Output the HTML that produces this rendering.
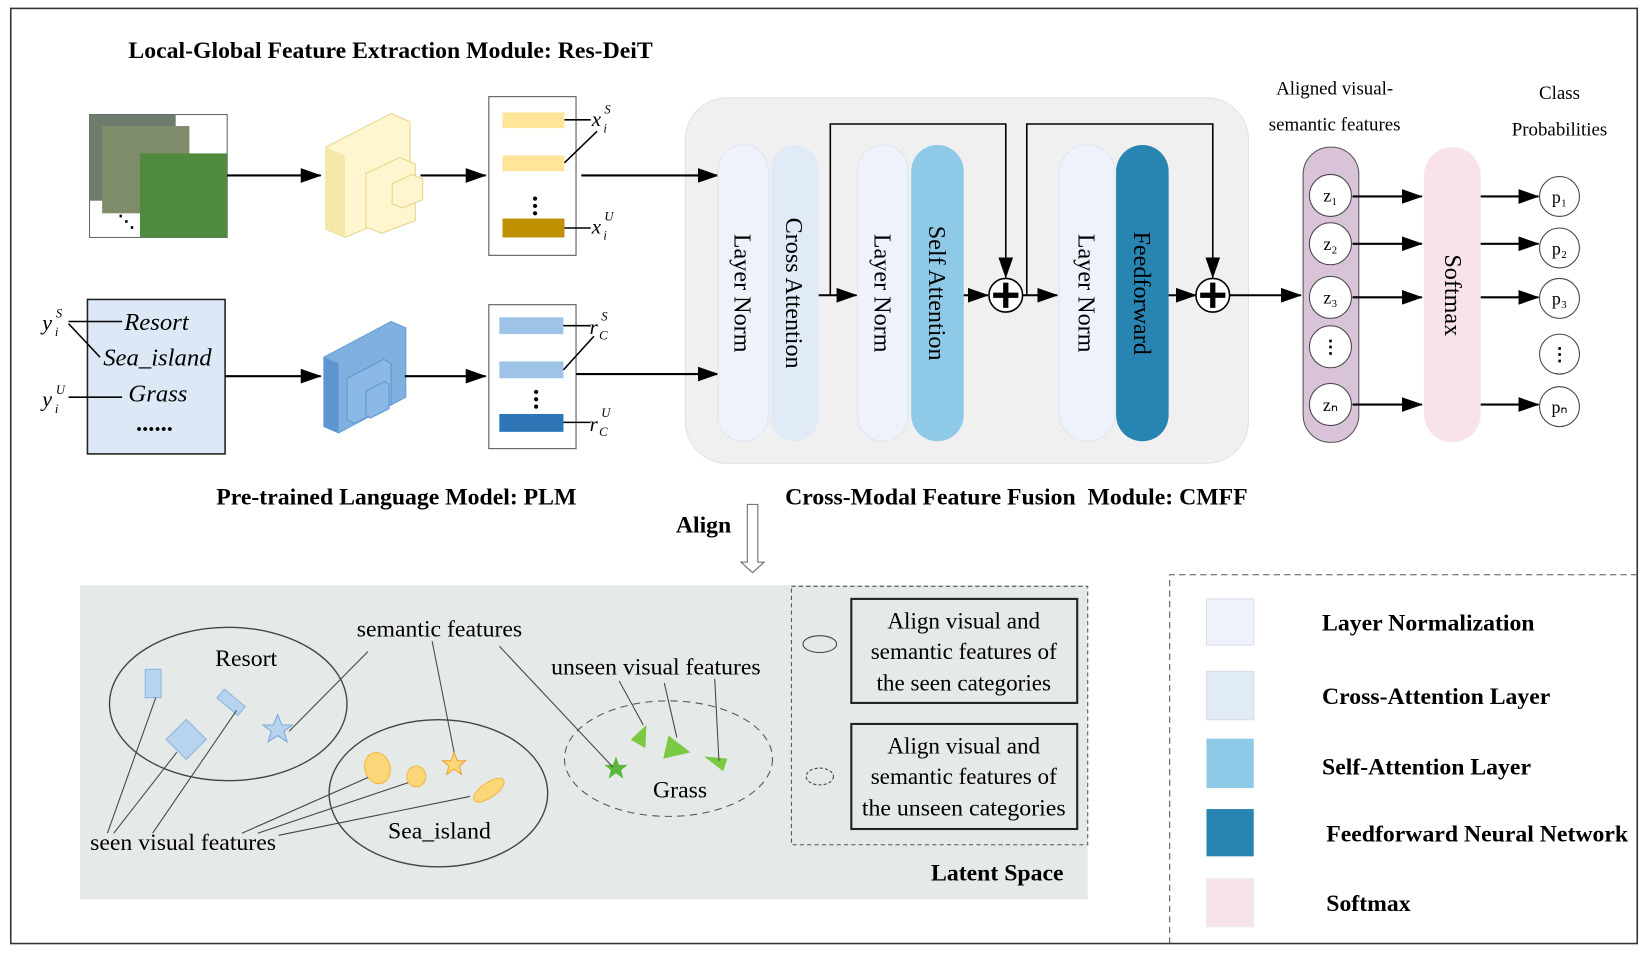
<!DOCTYPE html>
<html><head><meta charset="utf-8"><style>
html,body{margin:0;padding:0;background:#fff;}
svg{display:block;}
text{font-family:"Liberation Serif",serif;}
.b{font-weight:bold;font-size:22.6px;}
</style></head><body>
<svg width="1648" height="953" viewBox="0 0 1568 907" xmlns="http://www.w3.org/2000/svg">
<defs>
<marker id="ahl" markerWidth="20" markerHeight="14" refX="19" refY="7" orient="auto" markerUnits="userSpaceOnUse">
<path d="M0,0 L20,7 L0,14 z" fill="#000"/></marker>
</defs>
<rect x="10" y="8" width="1548" height="890" fill="#fff" stroke="#333" stroke-width="1.5"/>
<text x="122" y="55" class="b">Local-Global Feature Extraction Module: Res-DeiT</text>

<!-- image stack -->
<rect x="85" y="109" width="131" height="117" fill="#fff" stroke="#666"/>
<rect x="85" y="109" width="82" height="82" fill="#6d7c6c"/>
<rect x="97" y="120" width="83" height="83" fill="#7e8c6a"/>
<rect x="133" y="146" width="83" height="80" fill="#4f8a3e"/>
<text x="112" y="216" font-size="16" font-weight="bold">⋱</text>
<line x1="216" y1="167" x2="305" y2="167" stroke="#000" stroke-width="2" marker-end="url(#ahl)"/>
<!-- yellow block -->
<polygon points="310,140 372,108 390,116 390,200 328,226 310,218" fill="#fff6cf" stroke="#e8d48a"/>
<polygon points="310,140 328,148 328,226 310,218" fill="#f5e7a8"/>
<polygon points="348,165 380,150 395,156 395,210 363,222 348,216" fill="#fff6cf" stroke="#e8d48a"/>
<polygon points="373,175 392,166 402,170 402,190 383,198 373,194" fill="#fff6cf" stroke="#e8d48a"/>
<line x1="400" y1="167" x2="462" y2="167" stroke="#000" stroke-width="2" marker-end="url(#ahl)"/>
<rect x="465" y="92" width="83" height="151" fill="#fff" stroke="#555"/>
<rect x="478" y="107" width="59" height="15" fill="#ffe49a"/>
<rect x="478" y="148" width="59" height="15" fill="#ffe49a"/>
<rect x="478" y="208" width="59" height="18" fill="#c09000"/>
<circle cx="509" cy="189" r="2" fill="#000"/><circle cx="509" cy="196" r="2" fill="#000"/><circle cx="509" cy="203" r="2" fill="#000"/>
<line x1="537" y1="114" x2="562" y2="114" stroke="#000" stroke-width="1.5"/>
<line x1="537" y1="155" x2="568" y2="125" stroke="#000" stroke-width="1.5"/>
<line x1="537" y1="217" x2="562" y2="217" stroke="#000" stroke-width="1.5"/>
<text x="563" y="120" font-size="20" font-style="italic">x</text><text x="575" y="108" font-size="12" font-style="italic">S</text><text x="574" y="126" font-size="12" font-style="italic">i</text>
<text x="563" y="222" font-size="20" font-style="italic">x</text><text x="575" y="210" font-size="12" font-style="italic">U</text><text x="574" y="228" font-size="12" font-style="italic">i</text>

<!-- text box -->
<rect x="83" y="285" width="131" height="147" fill="#dce8f5" stroke="#222" stroke-width="1.5"/>
<text x="118" y="314" font-size="23.5" font-style="italic">Resort</text>
<text x="98" y="348" font-size="23.5" font-style="italic">Sea_island</text>
<text x="122" y="382" font-size="23.5" font-style="italic">Grass</text>
<text x="130" y="410" font-size="23.5" font-style="italic" font-weight="bold">......</text>
<text x="40" y="314" font-size="21" font-style="italic">y</text><text x="53" y="302" font-size="12" font-style="italic">S</text><text x="52" y="320" font-size="12" font-style="italic">i</text>
<text x="40" y="387" font-size="21" font-style="italic">y</text><text x="53" y="375" font-size="12" font-style="italic">U</text><text x="52" y="393" font-size="12" font-style="italic">i</text>
<line x1="65" y1="306" x2="116" y2="306" stroke="#000" stroke-width="1.5"/>
<line x1="65" y1="308" x2="95" y2="340" stroke="#000" stroke-width="1.5"/>
<line x1="65" y1="378" x2="116" y2="378" stroke="#000" stroke-width="1.5"/>
<line x1="214" y1="358" x2="305" y2="358" stroke="#000" stroke-width="2" marker-end="url(#ahl)"/>
<!-- blue block -->
<polygon points="308,340 372,306 386,312 386,378 322,412 308,406" fill="#7fb0e0" stroke="#6a9fd4"/>
<polygon points="308,340 322,346 322,412 308,406" fill="#5e95cf"/>
<polygon points="330,360 365,342 372,346 372,385 337,403 330,399" fill="#8bb9e6" stroke="#5e95cf"/>
<polygon points="348,372 366,363 370,366 370,389 352,398 348,395" fill="#8bb9e6" stroke="#5e95cf"/>
<line x1="385" y1="358" x2="462" y2="358" stroke="#000" stroke-width="2" marker-end="url(#ahl)"/>
<rect x="465" y="290" width="83" height="137" fill="#fff" stroke="#555"/>
<rect x="475" y="302" width="61" height="16" fill="#9dc3e6"/>
<rect x="475" y="344" width="61" height="16" fill="#9dc3e6"/>
<rect x="475" y="394" width="61" height="17" fill="#2e75b6"/>
<circle cx="510" cy="373" r="2" fill="#000"/><circle cx="510" cy="380" r="2" fill="#000"/><circle cx="510" cy="387" r="2" fill="#000"/>
<line x1="536" y1="310" x2="562" y2="310" stroke="#000" stroke-width="1.5"/>
<line x1="536" y1="352" x2="565" y2="320" stroke="#000" stroke-width="1.5"/>
<line x1="536" y1="402" x2="562" y2="402" stroke="#000" stroke-width="1.5"/>
<text x="561" y="318" font-size="20" font-style="italic">r</text><text x="572" y="305" font-size="12" font-style="italic">S</text><text x="570" y="323" font-size="12" font-style="italic">C</text>
<text x="561" y="410" font-size="20" font-style="italic">r</text><text x="572" y="397" font-size="12" font-style="italic">U</text><text x="570" y="415" font-size="12" font-style="italic">C</text>

<!-- CMFF -->
<rect x="652" y="93" width="536" height="348" rx="40" fill="#f0f0f0" stroke="#e2e2e2"/>
<line x1="553" y1="167" x2="683" y2="167" stroke="#000" stroke-width="2" marker-end="url(#ahl)"/>
<line x1="548" y1="356" x2="683" y2="356" stroke="#000" stroke-width="2" marker-end="url(#ahl)"/>
<rect x="683" y="138" width="48" height="282" rx="24" fill="#eef2fa" stroke="#e0e4ee"/>
<rect x="733" y="138" width="46" height="282" rx="23" fill="#e0ebf7"/>
<rect x="816" y="138" width="48" height="282" rx="24" fill="#eef2fa" stroke="#e0e4ee"/>
<rect x="867" y="138" width="50" height="282" rx="25" fill="#8ecae8"/>
<rect x="1008" y="138" width="53" height="282" rx="26" fill="#eef2fa" stroke="#e0e4ee"/>
<rect x="1062" y="138" width="50" height="282" rx="25" fill="#2884b0"/>
<g font-size="23">
<text transform="translate(699,279) rotate(90)" text-anchor="middle">Layer Norm</text>
<text transform="translate(748,279) rotate(90)" text-anchor="middle">Cross Attention</text>
<text transform="translate(832,279) rotate(90)" text-anchor="middle">Layer Norm</text>
<text transform="translate(884,279) rotate(90)" text-anchor="middle">Self Attention</text>
<text transform="translate(1026,279) rotate(90)" text-anchor="middle">Layer Norm</text>
<text transform="translate(1079,279) rotate(90)" text-anchor="middle">Feedforward</text>
</g>
<polyline points="790,281 790,118 957,118 957,264" fill="none" stroke="#000" stroke-width="1.5" marker-end="url(#ahl)"/>
<polyline points="977,281 977,118 1154,118 1154,264" fill="none" stroke="#000" stroke-width="1.5" marker-end="url(#ahl)"/>
<line x1="779" y1="281" x2="815" y2="281" stroke="#000" stroke-width="2" marker-end="url(#ahl)"/>
<line x1="917" y1="281" x2="940" y2="281" stroke="#000" stroke-width="2" marker-end="url(#ahl)"/>
<line x1="973" y1="281" x2="1006" y2="281" stroke="#000" stroke-width="2" marker-end="url(#ahl)"/>
<line x1="1112" y1="281" x2="1138" y2="281" stroke="#000" stroke-width="2" marker-end="url(#ahl)"/>
<line x1="1170" y1="281" x2="1238" y2="281" stroke="#000" stroke-width="2" marker-end="url(#ahl)"/>
<g stroke="#000">
<circle cx="957" cy="281" r="16" fill="#fff" stroke-width="1.5"/>
<line x1="945" y1="281" x2="969" y2="281" stroke-width="5"/><line x1="957" y1="269" x2="957" y2="293" stroke-width="5"/>
<circle cx="1154" cy="281" r="16" fill="#fff" stroke-width="1.5"/>
<line x1="1142" y1="281" x2="1166" y2="281" stroke-width="5"/><line x1="1154" y1="269" x2="1154" y2="293" stroke-width="5"/>
</g>

<!-- aligned -->
<text x="1270" y="90" font-size="18" text-anchor="middle">Aligned visual-</text>
<text x="1270" y="124" font-size="18" text-anchor="middle">semantic features</text>
<text x="1484" y="94" font-size="18" text-anchor="middle">Class</text>
<text x="1484" y="129" font-size="18" text-anchor="middle">Probabilities</text>
<rect x="1240" y="140" width="53" height="281" rx="26" fill="#d8c3d9" stroke="#555"/>
<rect x="1355" y="140" width="54" height="281" rx="27" fill="#f8e4e8"/>
<text transform="translate(1375,281) rotate(90)" text-anchor="middle" font-size="23">Softmax</text>
<g font-size="17" text-anchor="middle">
<circle cx="1266" cy="186" r="20" fill="#fff" stroke="#444"/><text x="1266" y="192">z₁</text>
<circle cx="1266" cy="232" r="20" fill="#fff" stroke="#444"/><text x="1266" y="238">z₂</text>
<circle cx="1266" cy="283" r="20" fill="#fff" stroke="#444"/><text x="1266" y="289">z₃</text>
<circle cx="1266" cy="330" r="20" fill="#fff" stroke="#444"/><text x="1266" y="336" font-weight="bold">⋮</text>
<circle cx="1266" cy="385" r="20" fill="#fff" stroke="#444"/><text x="1266" y="391">zₙ</text>
<circle cx="1484" cy="187" r="19" fill="#fff" stroke="#444"/><text x="1484" y="193">p₁</text>
<circle cx="1484" cy="236" r="19" fill="#fff" stroke="#444"/><text x="1484" y="242">p₂</text>
<circle cx="1484" cy="284" r="19" fill="#fff" stroke="#444"/><text x="1484" y="290">p₃</text>
<circle cx="1484" cy="337" r="19" fill="#fff" stroke="#444"/><text x="1484" y="343" font-weight="bold">⋮</text>
<circle cx="1484" cy="387" r="19" fill="#fff" stroke="#444"/><text x="1484" y="393">pₙ</text>
</g>
<g stroke="#000" stroke-width="2">
<line x1="1287" y1="187" x2="1353" y2="187" marker-end="url(#ahl)"/>
<line x1="1287" y1="232" x2="1353" y2="232" marker-end="url(#ahl)"/>
<line x1="1287" y1="283" x2="1353" y2="283" marker-end="url(#ahl)"/>
<line x1="1287" y1="385" x2="1353" y2="385" marker-end="url(#ahl)"/>
<line x1="1409" y1="187" x2="1464" y2="187" marker-end="url(#ahl)"/>
<line x1="1409" y1="232" x2="1464" y2="232" marker-end="url(#ahl)"/>
<line x1="1409" y1="283" x2="1464" y2="283" marker-end="url(#ahl)"/>
<line x1="1409" y1="385" x2="1464" y2="385" marker-end="url(#ahl)"/>
</g>

<text x="377" y="480" class="b" text-anchor="middle">Pre-trained Language Model: PLM</text>
<text x="747" y="480" class="b" xml:space="preserve">Cross-Modal Feature Fusion  Module: CMFF</text>
<text x="643" y="507" class="b">Align</text>
<path d="M711,480 L721,480 L721,535 L727,535 L716,545 L705,535 L711,535 Z" fill="#fff" stroke="#666"/>

<!-- latent -->
<rect x="76" y="557" width="959" height="299" fill="#e5e9e8"/>
<rect x="753" y="558" width="282" height="246" fill="none" stroke="#555" stroke-dasharray="4,3"/>
<rect x="810" y="570" width="215" height="99" fill="none" stroke="#222" stroke-width="2"/>
<rect x="810" y="689" width="215" height="100" fill="none" stroke="#222" stroke-width="2"/>
<g font-size="22" text-anchor="middle">
<text x="917" y="598">Align visual and</text><text x="917" y="627">semantic features of</text><text x="917" y="657">the seen categories</text>
<text x="917" y="717">Align visual and</text><text x="917" y="746">semantic features of</text><text x="917" y="776" textLength="194" lengthAdjust="spacingAndGlyphs">the unseen categories</text>
</g>
<ellipse cx="780" cy="613" rx="16" ry="8" fill="none" stroke="#444"/>
<ellipse cx="780" cy="739" rx="13" ry="8" fill="none" stroke="#444" stroke-dasharray="3,2"/>
<ellipse cx="217" cy="670" rx="113" ry="73" fill="none" stroke="#444" stroke-width="1.3"/>
<ellipse cx="417" cy="755" rx="104" ry="70" fill="none" stroke="#444" stroke-width="1.3"/>
<ellipse cx="636" cy="722" rx="99" ry="55" fill="none" stroke="#555" stroke-dasharray="7,5"/>
<g font-size="22.6">
<text x="234" y="634" text-anchor="middle">Resort</text>
<text x="418" y="798" text-anchor="middle">Sea_island</text>
<text x="647" y="759" text-anchor="middle">Grass</text>
<text x="418" y="606" text-anchor="middle">semantic features</text>
<text x="624" y="642" text-anchor="middle">unseen visual features</text>
<text x="174" y="809" text-anchor="middle">seen visual features</text>
<text x="1012" y="838" text-anchor="end" font-weight="bold">Latent Space</text>
</g>
<rect x="138" y="637" width="15" height="27" fill="#b7d3ee" stroke="#8db7e0"/>
<rect x="207" y="663" width="26" height="11" fill="#b7d3ee" stroke="#8db7e0" transform="rotate(40 220 668)"/>
<rect x="164" y="690" width="27" height="27" fill="#b7d3ee" stroke="#8db7e0" transform="rotate(45 177 703)"/>
<polygon points="264,680 268,690 278,690 270,696 273,706 264,700 255,706 258,696 250,690 260,690" fill="#b7d3ee" stroke="#7aa8d8"/>
<ellipse cx="359" cy="731" rx="12" ry="15" fill="#fcd77a" stroke="#f0b840" transform="rotate(-15 359 731)"/>
<ellipse cx="396" cy="739" rx="9" ry="10" fill="#fcd77a" stroke="#f0b840"/>
<ellipse cx="465" cy="752" rx="17" ry="7" fill="#fcd77a" stroke="#f0b840" transform="rotate(-35 465 752)"/>
<polygon points="432,716 435,724 443,724 437,729 439,737 432,732 425,737 427,729 421,724 429,724" fill="#fcd77a" stroke="#f0a030"/>
<polygon points="586,720 589,728 597,728 591,733 593,741 586,736 579,741 581,733 575,728 583,728" fill="#5cb83c"/>
<polygon points="615,690 614,712 600,704" fill="#7ac943"/>
<polygon points="636,700 657,716 631,722" fill="#7ac943"/>
<polygon points="670,720 692,722 688,734" fill="#7ac943"/>
<g stroke="#444" stroke-width="1">
<line x1="350" y1="620" x2="275" y2="696"/>
<line x1="411" y1="610" x2="432" y2="716"/>
<line x1="475" y1="615" x2="583" y2="730"/>
<line x1="589" y1="648" x2="612" y2="690"/>
<line x1="632" y1="650" x2="644" y2="702"/>
<line x1="680" y1="646" x2="684" y2="724"/>
<line x1="148" y1="664" x2="102" y2="793"/>
<line x1="168" y1="716" x2="108" y2="793"/>
<line x1="225" y1="676" x2="145" y2="793"/>
<line x1="350" y1="740" x2="230" y2="793"/>
<line x1="388" y1="745" x2="245" y2="793"/>
<line x1="447" y1="758" x2="265" y2="795"/>
</g>

<!-- legend -->
<polyline points="1113,898 1113,547 1558,547" fill="none" stroke="#555" stroke-dasharray="6,4"/>
<rect x="1148" y="570" width="45" height="44" fill="#eef2fa" stroke="#dde"/>
<rect x="1148" y="639" width="45" height="46" fill="#e0ebf7" stroke="#dde"/>
<rect x="1148" y="703" width="45" height="47" fill="#8ecae8"/>
<rect x="1148" y="770" width="45" height="45" fill="#2884b0"/>
<rect x="1148" y="836" width="45" height="46" fill="#f8e4e8" stroke="#eee"/>
<g class="b">
<text x="1258" y="600">Layer Normalization</text>
<text x="1258" y="670">Cross-Attention Layer</text>
<text x="1258" y="737">Self-Attention Layer</text>
<text x="1262" y="801">Feedforward Neural Network</text>
<text x="1262" y="867">Softmax</text>
</g>
</svg>
</body></html>
